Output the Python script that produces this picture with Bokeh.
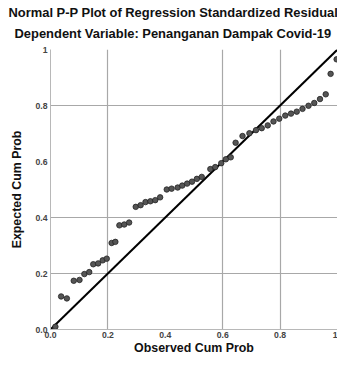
from bokeh.plotting import figure
from bokeh.models import Range1d, Title, FixedTicker, ColumnDataSource
from bokeh.embed import file_html
from bokeh.resources import INLINE

title_1 = "Normal P-P Plot of Regression Standardized Residual"
title_2 = "Dependent Variable: Penanganan Dampak Covid-19"
x_label = "Observed Cum Prob"
y_label = "Expected Cum Prob"

tick_values = [0.0, 0.2, 0.4, 0.6, 0.8, 1.0]
tick_labels = ["0.0", "0.2", "0.4", "0.6", "0.8", "1"]
x_grid_values = [0.2, 0.6, 0.8]
y_grid_values = [0.2, 0.4, 0.8]

observed = [0.017, 0.037, 0.057, 0.081, 0.101, 0.118, 0.135, 0.149, 0.166, 0.182,
            0.196, 0.213, 0.226, 0.240, 0.257, 0.274, 0.297, 0.314, 0.331, 0.348,
            0.365, 0.382, 0.405, 0.422, 0.443, 0.459, 0.476, 0.493, 0.510, 0.527,
            0.557, 0.574, 0.595, 0.611, 0.628, 0.645, 0.669, 0.693, 0.716, 0.736,
            0.757, 0.777, 0.797, 0.818, 0.838, 0.858, 0.878, 0.899, 0.919, 0.939,
            0.959, 0.976, 0.997]
expected = [0.010, 0.118, 0.111, 0.174, 0.177, 0.198, 0.205, 0.233, 0.236, 0.247,
            0.253, 0.309, 0.313, 0.372, 0.375, 0.382, 0.438, 0.444, 0.455, 0.458,
            0.462, 0.472, 0.500, 0.503, 0.507, 0.514, 0.521, 0.528, 0.538, 0.545,
            0.573, 0.580, 0.594, 0.608, 0.615, 0.667, 0.691, 0.701, 0.712, 0.719,
            0.729, 0.743, 0.753, 0.764, 0.771, 0.778, 0.788, 0.799, 0.809, 0.823,
            0.840, 0.913, 0.965]
diag = [0.0, 1.0]

FONT = "Liberation Sans"

p = figure(width=337, height=357, output_backend="svg", toolbar_location=None,
           x_range=Range1d(0, 1), y_range=Range1d(0, 1),
           min_border_left=50, min_border_right=0, min_border_top=49, min_border_bottom=27)
p.background_fill_color = "white"
p.border_fill_color = "white"
p.outline_line_color = None
p.title = None

t2 = Title(text=title_2, text_font=FONT, text_font_size="9.7pt", text_font_style="bold",
           align="left", text_color="#111111", offset=-36, standoff=18)
t1 = Title(text=title_1, text_font=FONT, text_font_size="9.7pt", text_font_style="bold",
           align="left", text_color="#111111", offset=-42, standoff=-11)
p.add_layout(t2, "above")
p.add_layout(t1, "above")

p.line(diag, diag, line_color="black", line_width=2)
src = ColumnDataSource(dict(x=observed, y=expected))
p.scatter("x", "y", source=src, size=5.5, fill_color="#555555", line_color="#222222", line_width=0.8)

for ax in (p.xaxis[0], p.yaxis[0]):
    ax.ticker = FixedTicker(ticks=tick_values)
    ax.major_label_overrides = {v: l for v, l in zip(tick_values, tick_labels)}
    ax.major_label_text_font = FONT
    ax.major_label_text_font_size = "6.5pt"
    ax.major_label_text_font_style = "bold"
    ax.major_label_text_color = "#444444"
    ax.axis_line_color = "#b8b8b8"
    ax.major_tick_line_color = None
    ax.minor_tick_line_color = None
    ax.major_tick_out = 0
    ax.major_tick_in = 0
    ax.minor_tick_out = 0
    ax.minor_tick_in = 0
    ax.axis_label_text_font = FONT
    ax.axis_label_text_font_size = "9.3pt"
    ax.axis_label_text_font_style = "bold"
    ax.axis_label_text_color = "#111111"

p.xaxis.axis_label = x_label
p.yaxis.axis_label = y_label
p.xaxis.major_label_standoff = 2
p.yaxis.major_label_standoff = 3
p.xaxis.axis_label_standoff = 0
p.yaxis.axis_label_standoff = 8

p.xgrid.ticker = FixedTicker(ticks=x_grid_values)
p.ygrid.ticker = FixedTicker(ticks=y_grid_values)
p.grid.grid_line_color = "#a8a8a8"
p.grid.grid_line_width = 1.2

open("out.html", "w").write(file_html(p, INLINE))
